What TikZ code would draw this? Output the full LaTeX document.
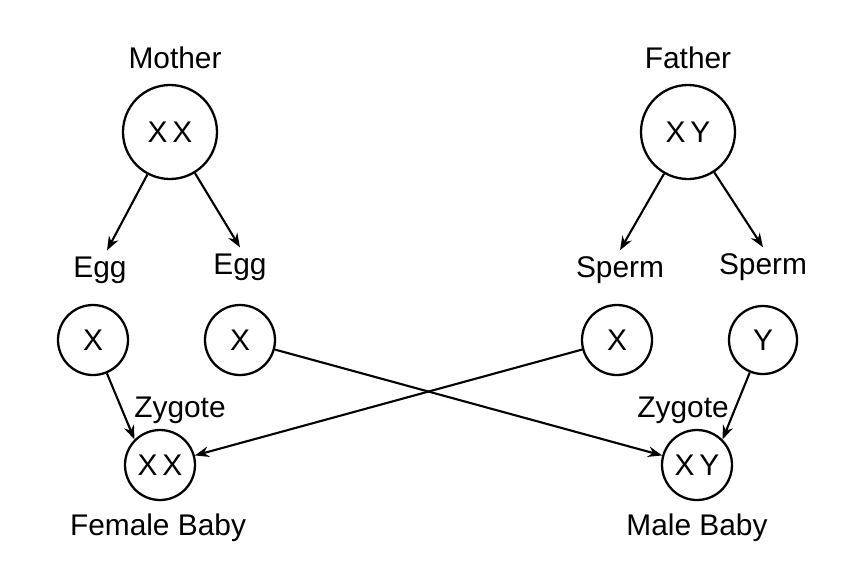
\documentclass[tikz,border=0pt]{standalone}
\usepackage{fontspec}
\setmainfont{Liberation Sans}
\usetikzlibrary{arrows.meta}
\begin{document}
\begin{tikzpicture}[x=0.02cm,y=-0.02cm,
	cell/.style={draw,circle,line width=1.3pt,inner sep=0pt,font=\fontsize{17}{19}\selectfont},
	lbl/.style={font=\fontsize{17}{19}\selectfont},
	arr/.style={line width=1.2pt,-{Stealth[length=8pt,width=6pt]}}]
	\useasboundingbox (0,0) rectangle (868,582);
	\node[lbl] (mlab) at (175,58) {Mother};
	\node[cell,minimum size=94*0.02cm] (mother) at (170,132) {X\,X};%Mutter
	\node[lbl] (flab) at (688,58) {Father};
	\node[cell,minimum size=94*0.02cm] (father) at (688,132) {X\,Y};%Vater
	
	\node[lbl] (egga) at (100,270) {Egg};
	\node[lbl] (eggb) at (240,267) {Egg};
	\node[lbl] (sperma) at (620,270) {Sperm};
	\node[lbl] (spermb) at (763,267) {Sperm};
	
	\node[cell,minimum size=70*0.02cm] (xa) at (93,340) {X};
	\node[cell,minimum size=70*0.02cm] (xb) at (240,340) {X};
	\node[cell,minimum size=70*0.02cm] (xc) at (617,340) {X};
	\node[cell,minimum size=68*0.02cm] (yd) at (763,340) {Y};
	
	\node[lbl] (zla) at (180,410) {Zygote};
	\node[lbl] (zlb) at (683,410) {Zygote};
	\node[cell,minimum size=70*0.02cm] (female) at (160,465) {X\,X};
	\node[cell,minimum size=70*0.02cm] (male) at (697,465) {X\,Y};
	\node[lbl] (flbl) at (158,528) {Female Baby};
	\node[lbl] (mlbl) at (697,528) {Male Baby};
	
	\draw[arr] (mother) -- ([xshift=4]egga.north);
	\draw[arr] (mother) -- (eggb.north);
	\draw[arr] (father) -- (sperma.north);
	\draw[arr] (father) -- (spermb.north);
	
	\draw[arr] (xa) -- (female.north west);
	\draw[arr] (xb) -- (male);
	\draw[arr] (xc) -- (female);
	\draw[arr] (yd) -- (male.north east);
\end{tikzpicture}
\end{document}
